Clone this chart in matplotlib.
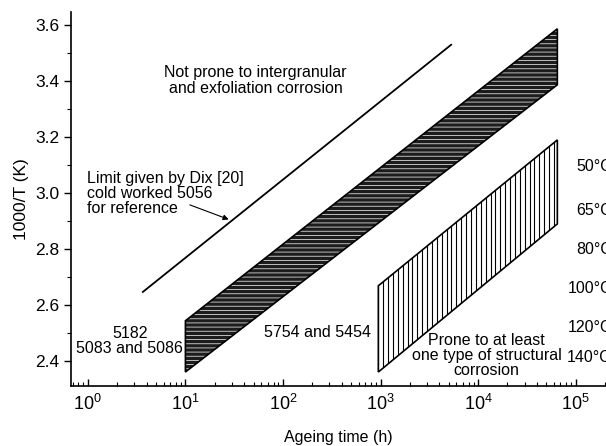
import numpy as np
import matplotlib
matplotlib.use("Agg")
import matplotlib.pyplot as plt
from matplotlib.patches import Polygon
from matplotlib.ticker import LogLocator, LogFormatterMathtext, MultipleLocator
import matplotlib.transforms as mtransforms

plt.rcParams['font.family'] = ['Liberation Sans', 'DejaVu Sans']
plt.rcParams['mathtext.fontset'] = 'custom'
plt.rcParams['mathtext.rm'] = 'Liberation Sans'
plt.rcParams['hatch.linewidth'] = 0.6

# Limit given by Dix (cold worked 5056)
dix_time = [3.66, 5300]
dix_inv_t = [2.646, 3.529]

# 5754 and 5454 band: (time, lower, upper) at both ends
band_time = [10, 65000]
band_low = [2.360, 3.386]
band_high = [2.543, 3.586]

# prone to structural corrosion band
prone_time = [950, 65000]
prone_low = [2.360, 2.889]
prone_high = [2.668, 3.189]

temp_labels = ['50°C', '65°C', '80°C', '100°C', '120°C', '140°C']
temp_pos = [3.093, 2.936, 2.796, 2.657, 2.518, 2.411]

fig = plt.figure(figsize=(6.06, 4.46), dpi=100)
ax = fig.add_axes([0.117, 0.1345, 0.883, 0.8386])

ax.set_xscale('log')
ax.set_xlim(0.67, 2.05e5)
ax.set_ylim(2.31, 3.646)

# Dix line
ax.plot(dix_time, dix_inv_t, color='black', lw=1.3)

# dark band
verts = [(band_time[0], band_low[0]), (band_time[1], band_low[1]),
         (band_time[1], band_high[1]), (band_time[0], band_high[0])]
ax.add_patch(Polygon(verts, closed=True, facecolor='#1c1c1c', edgecolor='#d8d8d8',
                     hatch='----', lw=0))
ax.add_patch(Polygon(verts, closed=True, fill=False, edgecolor='black', lw=1.2))

# vertical hatched band
pverts = [(prone_time[0], prone_low[0]), (prone_time[1], prone_low[1]),
          (prone_time[1], prone_high[1]), (prone_time[0], prone_high[0])]
outline = Polygon(pverts, closed=True, facecolor='white', edgecolor='black', lw=1.2)
ax.add_patch(outline)
lx = 10 ** np.arange(np.log10(prone_time[0]), np.log10(prone_time[1]), 0.05)
vl = ax.vlines(lx, 2.3, 3.3, color='black', lw=0.8)
vl.set_clip_path(outline)

# annotations
fs = 11.5
ax.text(52.6, 3.402, 'Not prone to intergranular\nand exfoliation corrosion',
        ha='center', va='center', fontsize=fs, linespacing=1.1)
ax.text(0.977, 2.996, 'Limit given by Dix [20]\ncold worked 5056\nfor reference',
        ha='left', va='center', fontsize=fs, linespacing=1.0)
ax.annotate('', xy=(27.8, 2.905), xytext=(11.1, 2.957),
            arrowprops=dict(arrowstyle='-|>', color='black', lw=0.8,
                            mutation_scale=8, shrinkA=0, shrinkB=0))
ax.text(2.69, 2.471, '5182\n5083 and 5086', ha='center', va='center',
        fontsize=fs, linespacing=1.0)
ax.text(227, 2.5, '5754 and 5454', ha='center', va='center', fontsize=fs)
ax.text(12250, 2.418, 'Prone to at least\none type of structural\ncorrosion',
        ha='center', va='center', fontsize=fs, linespacing=1.0)

trans = mtransforms.blended_transform_factory(ax.transAxes, ax.transData)
for lab, yv in zip(temp_labels, temp_pos):
    ax.text(1.011, yv, lab, transform=trans, ha='right', va='center',
            fontsize=fs, clip_on=False)

# axes styling
for s in ['top', 'right']:
    ax.spines[s].set_visible(False)
ax.spines['left'].set_linewidth(1.2)
ax.spines['bottom'].set_linewidth(1.2)

ax.xaxis.set_major_locator(LogLocator(base=10, numticks=10))
ax.xaxis.set_minor_locator(LogLocator(base=10, subs=np.arange(2, 10), numticks=20))
ax.xaxis.set_major_formatter(LogFormatterMathtext())
ax.yaxis.set_major_locator(MultipleLocator(0.2))
ax.yaxis.set_minor_locator(MultipleLocator(0.1))
ax.yaxis.set_major_formatter(plt.FormatStrFormatter('%.1f'))

ax.tick_params(axis='x', which='major', direction='in', length=5, width=1,
               labelsize=13, pad=6)
ax.tick_params(axis='x', which='minor', direction='in', length=3, width=0.8)
ax.tick_params(axis='y', which='major', direction='out', length=5, width=1,
               labelsize=12.5)
ax.tick_params(axis='y', which='minor', direction='out', length=3, width=0.8)

ax.set_xlabel('Ageing time (h)', fontsize=11.5, labelpad=11)
ax.set_ylabel('1000/T (K)', fontsize=12.5, labelpad=4)

fig.savefig('out.png', dpi=100)
